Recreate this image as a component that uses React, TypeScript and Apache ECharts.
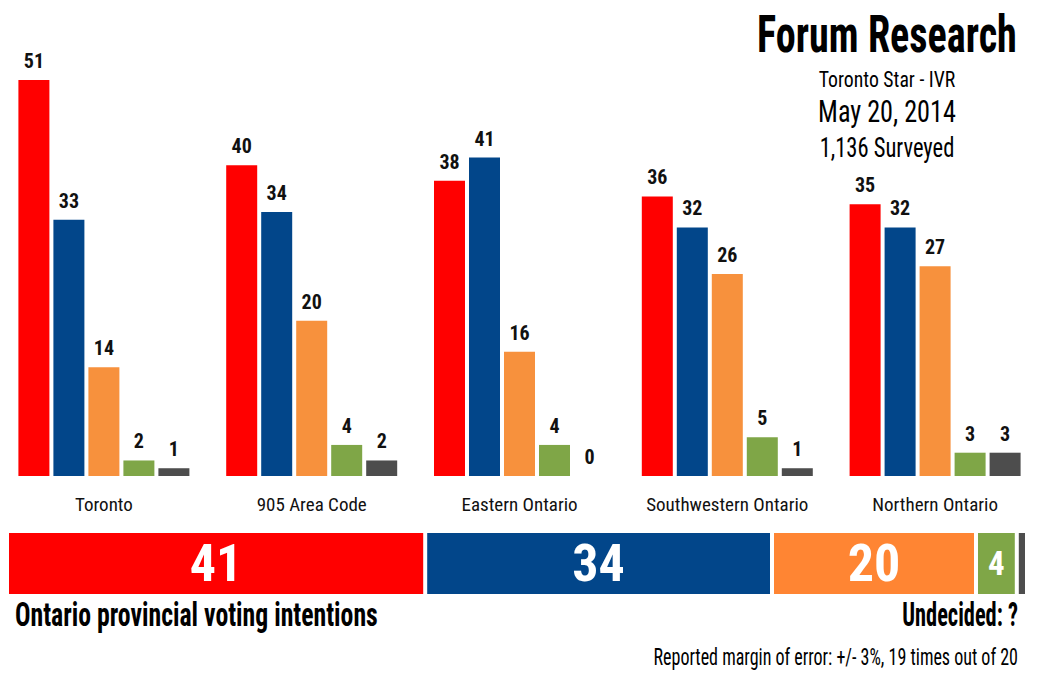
import React, { useEffect, useRef } from 'react';
import * as echarts from 'echarts';

const categories = ['Toronto', '905 Area Code', 'Eastern Ontario', 'Southwestern Ontario', 'Northern Ontario'];
const parties = ['Liberal', 'PC', 'NDP', 'Green', 'Other'];
const liberal = [51, 40, 38, 36, 35];
const pc = [33, 34, 41, 32, 32];
const ndp = [14, 20, 16, 26, 27];
const green = [2, 4, 4, 5, 3];
const other = [1, 2, 0, 1, 3];
const overall = [41, 34, 20, 4, 1];
const colors = ['#FF0000', '#02468A', '#F7913D', '#7FA647', '#4D4D4D'];
const overallColors = ['#FF0000', '#02468A', '#FF8533', '#7FA647', '#4D4D4D'];

const FONT = "'Roboto Condensed', 'Open Sans Condensed', 'DejaVu Sans Condensed', sans-serif";

export default function App() {
  const ref = useRef<HTMLDivElement>(null);
  useEffect(() => {
    document.body.style.margin = '0';
    const chart = echarts.init(ref.current!, null, { renderer: 'svg' });
    const regional = [liberal, pc, ndp, green, other];
    const regionSeries = regional.map((vals, i) => ({
      name: parties[i],
      type: 'bar',
      xAxisIndex: 0,
      yAxisIndex: 0,
      data: vals,
      barWidth: 31,
      barGap: '12.9%',
      itemStyle: { color: colors[i] },
      label: {
        show: true,
        position: 'top',
        distance: 9,
        fontFamily: FONT,
        fontWeight: 'bold',
        fontSize: 20,
        color: '#111',
      },
    }));
    const overallSeries = overall.map((v, i) => ({
      name: parties[i] + ' overall',
      type: 'bar',
      xAxisIndex: 1,
      yAxisIndex: 1,
      stack: 'total',
      data: [v],
      barWidth: '100%',
      itemStyle: { color: overallColors[i], borderColor: '#fff', borderWidth: 2 },
      label: {
        show: v >= 3,
        position: 'inside',
        fontFamily: FONT,
        fontWeight: 'bold',
        fontSize: v >= 10 ? 52 : 33,
        color: '#fff',
      },
    }));
    const txt = (text: string, x: number, y: number, size: number, weight: string, align: string, sx: number, sy: number) => ({
      type: 'text',
      x,
      y,
      scaleX: sx,
      scaleY: sy,
      style: {
        text,
        fontFamily: FONT,
        fontSize: size,
        fontWeight: weight,
        fill: '#000',
        textAlign: align,
        textVerticalAlign: 'middle',
      },
    });
    chart.setOption({
      animation: false,
      backgroundColor: '#fff',
      grid: [
        { left: -2.5, top: 10, width: 1050, height: 466 },
        { left: 7, top: 531, width: 1020, height: 65 },
      ],
      xAxis: [
        {
          gridIndex: 0,
          type: 'category',
          data: categories,
          axisLine: { show: false },
          axisTick: { show: false },
          axisLabel: { interval: 0, margin: 19, fontFamily: FONT, fontSize: 19, color: '#111' },
        },
        { gridIndex: 1, type: 'value', min: 0, max: 100, show: false },
      ],
      yAxis: [
        { gridIndex: 0, type: 'value', min: 0, max: 60, show: false, splitLine: { show: false } },
        { gridIndex: 1, type: 'category', data: ['Ontario'], show: false },
      ],
      series: [...regionSeries, ...overallSeries],
      graphic: [
        txt('Forum Research', 887, 34, 41, 'bold', 'center', 0.98, 1.25),
        txt('Toronto Star - IVR', 887, 79, 21, 'normal', 'center', 0.94, 1.08),
        txt('May 20, 2014', 887, 111, 28.5, 'normal', 'center', 0.92, 1.1),
        txt('1,136 Surveyed', 887, 148, 24, 'normal', 'center', 0.94, 1.12),
        txt('Ontario provincial voting intentions', 15, 615, 28, 'bold', 'left', 0.92, 1.16),
        txt('Undecided: ?', 1018, 615, 28, 'bold', 'right', 0.8, 1.16),
        txt('Reported margin of error: +/- 3%, 19 times out of 20', 1018, 657, 20, 'normal', 'right', 0.9, 1.2),
      ],
    });
    return () => chart.dispose();
  }, []);
  return <div ref={ref} style={{ width: 1039, height: 680 }} />;
}
